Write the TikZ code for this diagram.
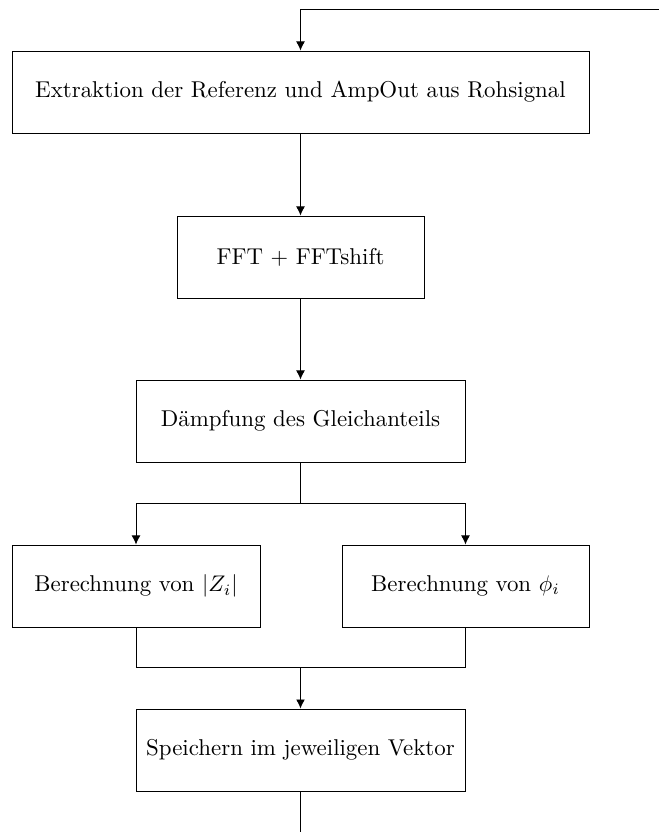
\documentclass[tikz,border=0pt]{standalone}
\usetikzlibrary{arrows.meta}
\begin{document}
\begin{tikzpicture}[x=0.4425pt,y=-0.4425pt,
  stepbox/.style={draw, rectangle, minimum height=36.3pt, inner sep=0pt, font=\fontsize{10.13}{12}\selectfont},
  flow/.style={-{Latex[length=4pt,width=3.9pt]}}]
\useasboundingbox (0,0) rectangle (659,832);

% process steps
\node[stepbox, minimum width=255.3pt] (extract) at (300.5,92) {Extraktion der Referenz und AmpOut aus Rohsignal};
\node[stepbox, minimum width=109.3pt] (fft) at (300.5,257) {FFT $+$ FFTshift};
\node[stepbox, minimum width=145.6pt] (damp) at (300.5,421) {Dämpfung des Gleichanteils};
\node[stepbox, minimum width=109.7pt] (absz) at (136,586) {Berechnung von $|Z_i|$};
\node[stepbox, minimum width=109.3pt] (phase) at (465.5,586) {Berechnung von $\phi_i$};
\node[stepbox, minimum width=145.6pt] (store) at (300.5,750) {Speichern im jeweiligen Vektor};

% loop entry and exit
\coordinate (loopin) at (659,9);
\coordinate (loopout) at (300.5,832);
\coordinate (split) at (300.5,503);
\coordinate (merge) at (300.5,667);

% connectors
\draw[flow] (loopin) -| (extract.north);
\draw[flow] (extract) -- (fft);
\draw[flow] (fft) -- (damp);
\draw (damp.south) -- (split);
\draw[flow] (split) -| (absz.north);
\draw[flow] (split) -| (phase.north);
\draw (absz.south) |- (merge);
\draw (phase.south) |- (merge);
\draw[flow] (merge) -- (store.north);
\draw (store.south) -- (loopout);
\end{tikzpicture}
\end{document}
